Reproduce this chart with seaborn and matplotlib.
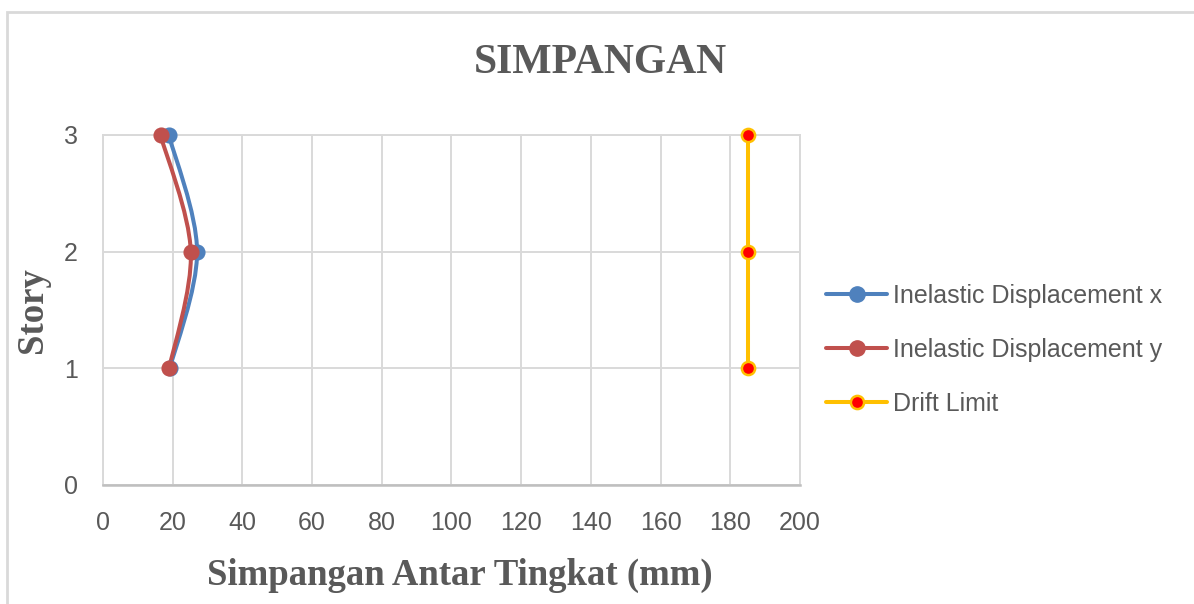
import numpy as np
import matplotlib
matplotlib.use("Agg")
import matplotlib.pyplot as plt
import seaborn as sns
from matplotlib.path import Path
from matplotlib.patches import PathPatch, Rectangle
from matplotlib.lines import Line2D

# Data
story = [1, 2, 3]
disp_x = [19.2, 27.0, 18.9]
disp_y = [19.0, 25.2, 16.5]
drift_limit = [185, 185, 185]
labels = ["Inelastic Displacement x", "Inelastic Displacement y", "Drift Limit"]

x_ticks = list(range(0, 201, 20))
y_ticks = [0, 1, 2, 3]

# Colors
c_blue = "#4F81BD"
c_red = "#C0504D"
c_gold = "#FFC000"
c_grid = "#D9D9D9"
c_text = "#595959"

sns.set_style("white")
plt.rcParams["font.family"] = ["Liberation Sans", "DejaVu Sans"]

fig = plt.figure(figsize=(11.94, 6.04), dpi=100)
ax = fig.add_axes([103 / 1194, 1 - 485 / 604, 697 / 1194, 350 / 604])


# smooth line (Excel-like) as bezier path through the points
def smooth_path(xs, ys):
    p = np.column_stack([xs, ys]).astype(float)
    n = len(p)
    ext = np.vstack([p[0], p, p[-1]])
    verts = [p[0]]
    codes = [Path.MOVETO]
    for i in range(n - 1):
        c1 = ext[i + 1] + (ext[i + 2] - ext[i]) / 6
        c2 = ext[i + 2] - (ext[i + 3] - ext[i + 1]) / 6
        verts += [c1, c2, ext[i + 2]]
        codes += [Path.CURVE4] * 3
    return Path(verts, codes)


for vals, col in [(disp_x, c_blue), (disp_y, c_red)]:
    ax.add_patch(PathPatch(smooth_path(vals, story), facecolor="none",
                           edgecolor=col, lw=2.9, capstyle="round", zorder=3))
    sns.scatterplot(x=vals, y=story, ax=ax, color=col, s=135,
                    edgecolor=col, linewidth=0, zorder=4, clip_on=False)

# Drift limit
sns.lineplot(x=drift_limit, y=story, ax=ax, orient="y", color=c_gold, lw=2.9,
             marker="o", markersize=9.5, markerfacecolor="#FF0000",
             markeredgecolor=c_gold, markeredgewidth=1.8, zorder=5, clip_on=False)

# Axes
ax.set_xlim(0, 200)
ax.set_ylim(0, 3)
ax.set_xticks(x_ticks)
ax.set_yticks(y_ticks)
ax.grid(True, color=c_grid, lw=1.4)
ax.set_axisbelow(True)
for s in ax.spines.values():
    s.set_color(c_grid)
    s.set_linewidth(1.4)
ax.spines["bottom"].set_color("#BFBFBF")
ax.spines["bottom"].set_linewidth(1.8)
ax.tick_params(axis="both", length=0, labelsize=18, labelcolor=c_text)
ax.tick_params(axis="x", pad=19)
ax.tick_params(axis="y", pad=18)

ax.set_xlabel("Simpangan Antar Tingkat (mm)", family="Liberation Serif",
              fontweight="bold", fontsize=26.5, color=c_text)
ax.xaxis.set_label_coords(0.512, -0.257)
ax.xaxis.label.set_va("center")
ax.set_ylabel("Story", family="Liberation Serif", fontweight="bold",
              fontsize=26.5, color=c_text, labelpad=10)

fig.text(0.503, 1 - 63 / 604, "SIMPANGAN", family="Liberation Serif",
         fontweight="bold", fontsize=30, color=c_text, ha="center", va="center")

# Legend
handles = [
    Line2D([], [], color=c_blue, lw=2.9, marker="o", ms=11, mfc=c_blue, mec=c_blue),
    Line2D([], [], color=c_red, lw=2.9, marker="o", ms=11, mfc=c_red, mec=c_red),
    Line2D([], [], color=c_gold, lw=2.9, marker="o", ms=9.5, mfc="#FF0000",
           mec=c_gold, mew=1.8),
]
fig.legend(handles, labels, loc="center left", bbox_to_anchor=(826 / 1194, 1 - 350 / 604),
           frameon=False, fontsize=18, labelcolor=c_text, handlelength=2.45,
           handletextpad=0.22, labelspacing=1.2, borderpad=0, borderaxespad=0)

# Outer chart border
fig.add_artist(Rectangle((7 / 1194, -0.1), 1.2, (1 - 12 / 604) + 0.1,
                         transform=fig.transFigure, fill=False,
                         edgecolor=c_grid, lw=2))

fig.savefig("out.png", dpi=100, facecolor="white")
